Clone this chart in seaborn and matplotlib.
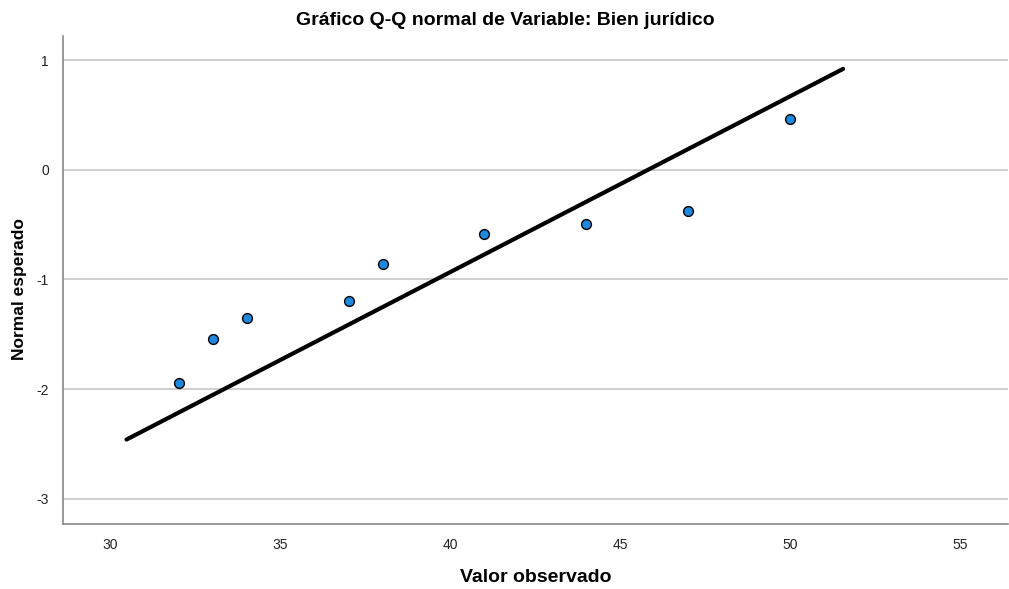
import numpy as np
import pandas as pd
import seaborn as sns
import matplotlib.pyplot as plt

#---------------------------data
observed = [32, 33, 34, 37, 38, 41, 44, 47, 50]
expected = [-1.94, -1.54, -1.35, -1.20, -0.86, -0.59, -0.49, -0.38, 0.46]
line_x = [30.47, 51.55]
line_y = [-2.46, 0.92]
x_ticks = [30, 35, 40, 45, 50, 55]
y_ticks = [-3, -2, -1, 0, 1]

pts = pd.DataFrame({"obs": observed, "exp": expected})
ref = pd.DataFrame({"x": line_x, "y": line_y})

sns.set_style("white")
plt.rcParams["font.family"] = ["Liberation Sans", "DejaVu Sans"]
plt.rcParams["axes.unicode_minus"] = False

fig = plt.figure(figsize=(10.09, 5.89), dpi=100)
ax = fig.add_axes([0.0624, 0.1104, 0.9366, 0.8285])

ax.set_yticks(y_ticks)
ax.set_xticks(x_ticks)
ax.grid(axis="y", color="#cccccc", linewidth=1.3)
ax.set_axisbelow(True)

sns.lineplot(data=ref, x="x", y="y", color="black", linewidth=3, ax=ax)
sns.scatterplot(data=pts, x="obs", y="exp", color="#1e88df", edgecolor="black",
                linewidth=1, s=50, zorder=3, ax=ax)

ax.set_xlim(28.6, 56.4)
ax.set_ylim(-3.23, 1.22)

for s in ["top", "right"]:
    ax.spines[s].set_visible(False)
for s in ["left", "bottom"]:
    ax.spines[s].set_color("#888888")
    ax.spines[s].set_linewidth(1.2)

ax.tick_params(axis="both", length=0, labelsize=10, colors="#222222", pad=10)
ax.set_xlabel("Valor observado", fontsize=14, fontweight="bold", labelpad=12, color="black")
ax.set_ylabel("Normal esperado", fontsize=12.5, fontweight="bold", color="black")
ax.yaxis.set_label_coords(-0.038, 0.482)
ax.set_title("Gráfico Q-Q normal de Variable: Bien jurídico", fontsize=14,
             fontweight="bold", pad=8, x=0.468, color="black")

fig.savefig("out.png", dpi=100)
